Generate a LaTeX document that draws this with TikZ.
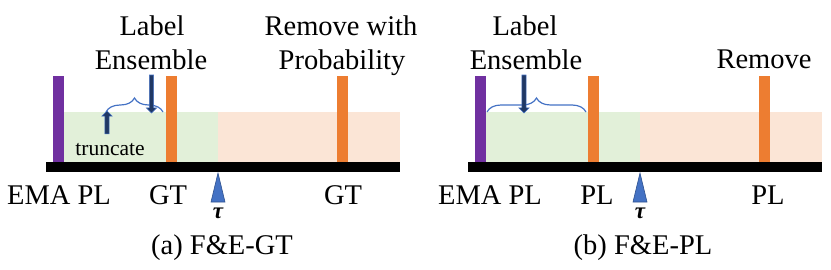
\documentclass[tikz,border=0pt]{standalone}
\usepackage{fontspec}
\setmainfont{Liberation Serif}
\usetikzlibrary{arrows.meta, positioning, shapes.arrows, decorations.pathreplacing}

\definecolor{emapurple}{HTML}{7030A0}
\definecolor{gtorange}{HTML}{ED7D31}
\definecolor{keepgreen}{HTML}{E2F0D9}
\definecolor{droppeach}{HTML}{FBE5D6}
\definecolor{markblue}{HTML}{4472C4}
\definecolor{markedge}{HTML}{2F528F}
\definecolor{navyfill}{HTML}{203864}

\tikzset{
  txt/.style={anchor=base, inner sep=0pt, font=\fontsize{28.5}{34}\selectfont},
  smalltxt/.style={anchor=base, inner sep=0pt, font=\fontsize{21.5}{26}\selectfont},
  taulbl/.style={anchor=base, inner sep=0pt, font=\fontsize{23}{26}\selectfont\bfseries\itshape},
  bar/.style={anchor=south, inner sep=0pt, minimum width=11pt, minimum height=86pt},
  tmark/.style={fill=markblue, draw=markedge, line width=0.6pt},
  blkarrow/.style={single arrow, draw=markblue, fill=navyfill, line width=0.6pt,
    inner sep=1.8pt, single arrow head extend=3pt, single arrow tip angle=90},
  ensbrace/.style={draw=markblue, line width=1.2pt, decorate,
    decoration={brace, amplitude=14pt}},
}

\begin{document}
\begin{tikzpicture}[x=1pt, y=-1pt]
    \useasboundingbox (0,0) rectangle (831,270);

    % Timeline, zones and bars of both panels
    \foreach \p/\dx in {a/0, b/422}{
      \begin{scope}[xshift=\dx pt]
        \fill[keepgreen] (64,112) rectangle (218,162);
        \fill[droppeach] (218,112) rectangle (400,162);
        \node[bar, fill=emapurple] (ema\p) at (58.5,162) {};
        \node[bar, fill=gtorange] (near\p) at (171,162) {};
        \node[bar, fill=gtorange] (far\p) at (342,162) {};
        \fill (46,162) rectangle (400,172);
        % Threshold marker
        \coordinate (tau\p) at (218,173);
        \filldraw[tmark] (tau\p) -- ++(7,29) -- ++(-14,0) -- cycle;
        \node[taulbl] (taulbl\p) at (218,218) {τ};
      \end{scope}
    }

    % (a) F&E-GT
    \node[txt] (labA) at (152,36) {Label};
    \node[txt] (ensA) at (151,70) {Ensemble};
    \node[txt] (remA) at (341,36) {Remove with};
    \node[txt] (probA) at (342,70) {Probability};
    \node[txt] (emalblA) at (59,204) {EMA PL};
    \node[txt] (gtlblA) at (168,204) {GT};
    \node[txt] (gtfarA) at (343,204) {GT};
    \node[smalltxt] (truncA) at (110,155) {truncate};
    \node[txt] (capA) at (222,254) {(a) F\&E-GT};
    \draw[ensbrace] (106,112) -- (163,112);
    \node[blkarrow, rotate=-90, minimum height=38pt] (downA) at (151.5,93) {};
    \node[blkarrow, rotate=90, minimum height=23pt] (upA) at (107,123.5) {};

    % (b) F&E-PL
    \node[txt] (labB) at (525,36) {Label};
    \node[txt] (ensB) at (526,70) {Ensemble};
    \node[txt] (remB) at (764,69) {Remove};
    \node[txt] (emalblB) at (490,204) {EMA PL};
    \node[txt] (pllblB) at (597,204) {PL};
    \node[txt] (plfarB) at (768,204) {PL};
    \node[txt] (capB) at (643,254) {(b) F\&E-PL};
    \draw[ensbrace] (487,112) -- (586,112);
    \node[blkarrow, rotate=-90, minimum height=38pt] (downB) at (524,93) {};
\end{tikzpicture}
\end{document}
